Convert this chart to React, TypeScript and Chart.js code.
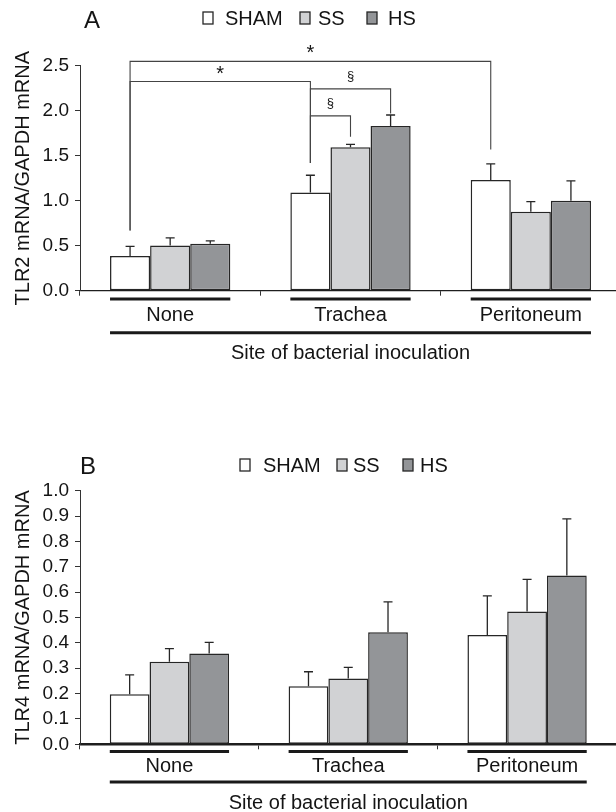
import React, { useEffect, useRef } from "react";
import { Chart, registerables } from "chart.js";

Chart.register(...registerables);

const FONT = "'Liberation Sans', Arial, Helvetica, sans-serif";
const TEXT = "#141414";

// ---------- data ----------
const categories = ["None", "Trachea", "Peritoneum"];
const seriesNames = ["SHAM", "SS", "HS"];

// Panel A: TLR2 mRNA / GAPDH mRNA
const tlr2Sham = [0.385, 1.09, 1.23];
const tlr2Ss = [0.503, 1.594, 0.878];
const tlr2Hs = [0.521, 1.83, 1.0];
const tlr2ShamErr = [0.107, 0.193, 0.18];
const tlr2SsErr = [0.083, 0.032, 0.112];
const tlr2HsErr = [0.032, 0.122, 0.22];
const tlr2Axis = [0, 2.5, 0.5]; // min, max, step

// Panel B: TLR4 mRNA / GAPDH mRNA
const tlr4Sham = [0.197, 0.229, 0.431];
const tlr4Ss = [0.326, 0.259, 0.524];
const tlr4Hs = [0.358, 0.442, 0.666];
const tlr4ShamErr = [0.077, 0.057, 0.154];
const tlr4SsErr = [0.051, 0.044, 0.126];
const tlr4HsErr = [0.044, 0.12, 0.223];
const tlr4Axis = [0, 1.0, 0.1];

// significance brackets (panel A): [fromCat, fromSeries, toCat, toSeries, bracketY, leftEndY, rightEndY, labelY, label]
const tlr2Brackets: [number, number, number, number, number, number, number, number, string][] = [
  [0, 0, 2, 0, 2.548, 0.67, 1.57, 2.665, "*"],
  [0, 0, 1, 0, 2.325, 0.67, 1.42, 2.44, "*"],
  [1, 0, 1, 2, 2.243, 1.42, 1.97, 2.38, "§"],
  [1, 0, 1, 1, 1.942, 1.42, 1.71, 2.08, "§"],
];

const fills = ["#ffffff", "#d1d2d4", "#939598"];
const edge = "#262626";

type PanelCfg = {
  letter: string;
  yTitle: string;
  series: number[][];
  errors: number[][];
  axis: number[];
  brackets: [number, number, number, number, number, number, number, number, string][];
  width: number;
  height: number;
  padTop: number;
  padRight: number;
  xHeight: number;
  tickPad: number;
  titlePadBottom: number;
  xBorderWidth: number;
  underlineOffset: number;
  longLineOffset: number;
  legendY: number;
  legendBoxX: number[];
  legendTextX: number[];
  letterX: number;
  letterY: number;
};

const overlayPlugin = {
  id: "overlay",
  afterDatasetsDraw(chart: any, _args: any, opts: any) {
    const ctx = chart.ctx;
    const yScale = chart.scales.y;
    ctx.save();
    ctx.strokeStyle = edge;
    ctx.lineWidth = 1.3;
    chart.data.datasets.forEach((ds: any, i: number) => {
      const meta = chart.getDatasetMeta(i);
      meta.data.forEach((el: any, j: number) => {
        const v = ds.data[j];
        const e = opts.errors[i][j];
        const yT = yScale.getPixelForValue(v + e);
        ctx.beginPath();
        ctx.moveTo(el.x, el.y);
        ctx.lineTo(el.x, yT);
        ctx.moveTo(el.x - 4.5, yT);
        ctx.lineTo(el.x + 4.5, yT);
        ctx.stroke();
      });
    });
    ctx.restore();
  },
  afterDraw(chart: any, _args: any, opts: any) {
    const ctx = chart.ctx;
    const yScale = chart.scales.y;
    const area = chart.chartArea;
    ctx.save();

    // significance brackets
    ctx.strokeStyle = "#444";
    ctx.lineWidth = 1.1;
    ctx.fillStyle = TEXT;
    ctx.textAlign = "center";
    ctx.textBaseline = "middle";
    opts.brackets.forEach((b: any) => {
      const [c1, s1, c2, s2, yB, yL, yR, yLab, lab] = b;
      const x1 = chart.getDatasetMeta(s1).data[c1].x;
      const x2 = chart.getDatasetMeta(s2).data[c2].x;
      const pB = yScale.getPixelForValue(yB);
      ctx.beginPath();
      ctx.moveTo(x1, yScale.getPixelForValue(yL));
      ctx.lineTo(x1, pB);
      ctx.lineTo(x2, pB);
      ctx.lineTo(x2, yScale.getPixelForValue(yR));
      ctx.stroke();
      ctx.font = lab === "*" ? `20px ${FONT}` : `13px ${FONT}`;
      ctx.fillText(lab, (x1 + x2) / 2, yScale.getPixelForValue(yLab) + (lab === "*" ? 3 : 0));
    });

    // group underlines and overall line
    const n = chart.data.datasets.length;
    const first = chart.getDatasetMeta(0);
    const last = chart.getDatasetMeta(n - 1);
    ctx.strokeStyle = "#1a1a1a";
    ctx.lineWidth = 3;
    const yU = area.bottom + opts.underlineOffset;
    first.data.forEach((el: any, j: number) => {
      const l = el.x - el.width / 2;
      const r = last.data[j].x + last.data[j].width / 2;
      ctx.beginPath();
      ctx.moveTo(l, yU);
      ctx.lineTo(r, yU);
      ctx.stroke();
    });
    const gl = first.data[0].x - first.data[0].width / 2;
    const le = last.data[last.data.length - 1];
    const gr = le.x + le.width / 2;
    const yL2 = area.bottom + opts.longLineOffset;
    ctx.beginPath();
    ctx.moveTo(gl, yL2);
    ctx.lineTo(gr, yL2);
    ctx.stroke();

    // legend
    ctx.lineWidth = 1.3;
    ctx.strokeStyle = edge;
    ctx.textAlign = "left";
    ctx.textBaseline = "middle";
    ctx.font = `20px ${FONT}`;
    chart.data.datasets.forEach((ds: any, i: number) => {
      const bx = opts.legendBoxX[i];
      ctx.fillStyle = ds.backgroundColor;
      ctx.fillRect(bx, opts.legendY - 6, 10, 12);
      ctx.strokeRect(bx, opts.legendY - 6, 10, 12);
      ctx.fillStyle = TEXT;
      ctx.fillText(ds.label, opts.legendTextX[i], opts.legendY + 1);
    });

    // panel letter
    ctx.font = `24px ${FONT}`;
    ctx.fillStyle = TEXT;
    ctx.fillText(opts.letter, opts.letterX, opts.letterY);
    ctx.restore();
  },
};

function Panel({ cfg, top }: { cfg: PanelCfg; top: number }) {
  const ref = useRef<HTMLCanvasElement | null>(null);
  useEffect(() => {
    if (!ref.current) return;
    const [mn, mx, step] = cfg.axis;
    const chart = new Chart(ref.current, {
      type: "bar",
      data: {
        labels: categories,
        datasets: cfg.series.map((d, i) => ({
          label: seriesNames[i],
          data: d,
          backgroundColor: fills[i],
          borderColor: edge,
          borderWidth: 1.5,
          borderSkipped: false,
          barPercentage: 1,
          categoryPercentage: 0.667,
        })),
      },
      options: {
        animation: false,
        responsive: false,
        devicePixelRatio: 1,
        layout: { padding: { top: cfg.padTop, right: cfg.padRight, left: 0, bottom: 0 } },
        plugins: {
          legend: { display: false },
          tooltip: { enabled: false },
          overlay: {
            errors: cfg.errors,
            brackets: cfg.brackets,
            underlineOffset: cfg.underlineOffset,
            longLineOffset: cfg.longLineOffset,
            legendY: cfg.legendY,
            legendBoxX: cfg.legendBoxX,
            legendTextX: cfg.legendTextX,
            letter: cfg.letter,
            letterX: cfg.letterX,
            letterY: cfg.letterY,
          },
        } as any,
        scales: {
          x: {
            grid: { offset: true, drawOnChartArea: false, tickLength: 5, color: "#333", lineWidth: 1 },
            border: { color: "#1e1e1e", width: cfg.xBorderWidth },
            ticks: { font: { family: FONT, size: 20 }, color: TEXT, padding: cfg.tickPad, maxRotation: 0, autoSkip: false },
            title: {
              display: true,
              text: "Site of bacterial inoculation",
              font: { family: FONT, size: 20 },
              color: TEXT,
              padding: { top: 0, bottom: cfg.titlePadBottom },
            },
            afterFit: (s: any) => {
              s.height = cfg.xHeight;
            },
          },
          y: {
            min: mn,
            max: mx,
            ticks: {
              stepSize: step,
              autoSkip: false,
              maxTicksLimit: 20,
              font: { family: FONT, size: 19, lineHeight: 1 },
              color: TEXT,
              padding: 6,
              callback: (v: any) => Number(v).toFixed(1),
            },
            grid: { drawOnChartArea: false, tickLength: 5, color: "#333", lineWidth: 1 },
            border: { color: "#333", width: 1 },
            title: {
              display: true,
              text: cfg.yTitle,
              font: { family: FONT, size: 20 },
              color: TEXT,
              padding: { top: 11, bottom: 0 },
            },
            afterFit: (s: any) => {
              s.width = 80;
            },
          },
        },
      },
      plugins: [overlayPlugin],
    } as any);
    return () => chart.destroy();
  }, [cfg]);
  return (
    <canvas
      ref={ref}
      width={cfg.width}
      height={cfg.height}
      style={{ position: "absolute", left: 0, top, width: cfg.width, height: cfg.height }}
    />
  );
}

const panelA: PanelCfg = {
  letter: "A",
  yTitle: "TLR2 mRNA/GAPDH mRNA",
  series: [tlr2Sham, tlr2Ss, tlr2Hs],
  errors: [tlr2ShamErr, tlr2SsErr, tlr2HsErr],
  axis: tlr2Axis,
  brackets: tlr2Brackets,
  width: 630,
  height: 400,
  padTop: 65.7,
  padRight: 9,
  xHeight: 109.3,
  tickPad: 7.3,
  titlePadBottom: 35,
  xBorderWidth: 1.2,
  underlineOffset: 8.3,
  longLineOffset: 42,
  legendY: 18,
  legendBoxX: [203, 300, 367],
  legendTextX: [225, 318, 388],
  letterX: 84,
  letterY: 21,
};

const panelB: PanelCfg = {
  letter: "B",
  yTitle: "TLR4 mRNA/GAPDH mRNA",
  series: [tlr4Sham, tlr4Ss, tlr4Hs],
  errors: [tlr4ShamErr, tlr4SsErr, tlr4HsErr],
  axis: tlr4Axis,
  brackets: [],
  width: 630,
  height: 420,
  padTop: 90.7,
  padRight: 13.5,
  xHeight: 75.7,
  tickPad: 5.4,
  titlePadBottom: 5,
  xBorderWidth: 2.5,
  underlineOffset: 7.3,
  longLineOffset: 37.6,
  legendY: 65,
  legendBoxX: [240, 337, 403],
  legendTextX: [263, 353, 420],
  letterX: 80,
  letterY: 67,
};

export default function App() {
  return (
    <div
      style={{
        position: "absolute",
        left: 0,
        top: 0,
        width: 616,
        height: 812,
        overflow: "hidden",
        background: "#fff",
      }}
    >
      <Panel cfg={panelA} top={0} />
      <Panel cfg={panelB} top={400} />
    </div>
  );
}
